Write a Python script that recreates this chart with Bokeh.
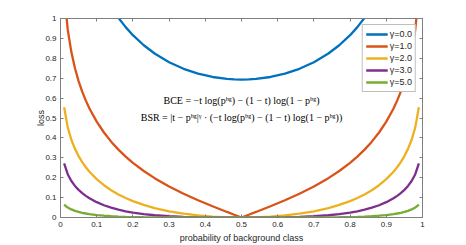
from bokeh.plotting import figure
from bokeh.models import LinearAxis, Range1d, FixedTicker, Legend, LegendItem, ColumnDataSource, CustomJSTickFormatter
from bokeh.core.properties import value
from bokeh.embed import file_html
from bokeh.resources import INLINE

# probability of background class
p_bg = [0.01, 0.02, 0.03, 0.04, 0.05, 0.06, 0.07, 0.08, 0.10, 0.12, 0.14, 0.16, 0.18, 0.20,
        0.23, 0.26, 0.30, 0.34, 0.38, 0.42, 0.46, 0.48, 0.50,
        0.52, 0.54, 0.58, 0.62, 0.66, 0.70, 0.74, 0.77, 0.80, 0.82, 0.84, 0.86, 0.88,
        0.90, 0.92, 0.93, 0.94, 0.95, 0.96, 0.97, 0.98, 0.99]

loss_g0 = [2.3076, 1.9661, 1.7685, 1.6299, 1.5235, 1.4376, 1.3659, 1.3045, 1.2040, 1.1240, 1.0585, 1.0035, 0.9566, 0.9163,
           0.8655, 0.8241, 0.7803, 0.7472, 0.7228, 0.7061, 0.6964, 0.6940, 0.6931,
           0.6940, 0.6964, 0.7061, 0.7228, 0.7472, 0.7803, 0.8241, 0.8655, 0.9163, 0.9566, 1.0035, 1.0585, 1.1240,
           1.2040, 1.3045, 1.3659, 1.4376, 1.5235, 1.6299, 1.7685, 1.9661, 2.3076]
loss_g1 = [1.1307, 0.9437, 0.8312, 0.7498, 0.6856, 0.6325, 0.5873, 0.5479, 0.4816, 0.4271, 0.3811, 0.3412, 0.3061, 0.2749,
           0.2337, 0.1978, 0.1561, 0.1196, 0.0867, 0.0565, 0.0279, 0.0139, 0.0,
           0.0139, 0.0279, 0.0565, 0.0867, 0.1196, 0.1561, 0.1978, 0.2337, 0.2749, 0.3061, 0.3412, 0.3811, 0.4271,
           0.4816, 0.5479, 0.5873, 0.6325, 0.6856, 0.7498, 0.8312, 0.9437, 1.1307]
loss_g2 = [0.5540, 0.4530, 0.3907, 0.3449, 0.3085, 0.2783, 0.2526, 0.2301, 0.1926, 0.1623, 0.1372, 0.1160, 0.0980, 0.0825,
           0.0631, 0.0475, 0.0312, 0.0191, 0.0104, 0.0045, 0.0011, 0.0003, 0.0,
           0.0003, 0.0011, 0.0045, 0.0104, 0.0191, 0.0312, 0.0475, 0.0631, 0.0825, 0.0980, 0.1160, 0.1372, 0.1623,
           0.1926, 0.2301, 0.2526, 0.2783, 0.3085, 0.3449, 0.3907, 0.4530, 0.5540]
loss_g3 = [0.2715, 0.2174, 0.1836, 0.1586, 0.1388, 0.1225, 0.1086, 0.0966, 0.0771, 0.0617, 0.0494, 0.0394, 0.0313, 0.0247,
           0.0170, 0.0114, 0.0062, 0.0031, 0.0012, 0.0004, 0.0000, 0.0, 0.0,
           0.0, 0.0000, 0.0004, 0.0012, 0.0031, 0.0062, 0.0114, 0.0170, 0.0247, 0.0313, 0.0394, 0.0494, 0.0617,
           0.0771, 0.0966, 0.1086, 0.1225, 0.1388, 0.1586, 0.1836, 0.2174, 0.2715]
loss_g5 = [0.0652, 0.0501, 0.0406, 0.0336, 0.0281, 0.0237, 0.0201, 0.0170, 0.0123, 0.0089, 0.0064, 0.0046, 0.0032, 0.0022,
           0.0012, 0.0007, 0.0002, 0.0001, 0.0, 0.0, 0.0, 0.0, 0.0,
           0.0, 0.0, 0.0, 0.0, 0.0001, 0.0002, 0.0007, 0.0012, 0.0022, 0.0032, 0.0046, 0.0064, 0.0089,
           0.0123, 0.0170, 0.0201, 0.0237, 0.0281, 0.0336, 0.0406, 0.0501, 0.0652]

series_names = ["γ=0.0", "γ=1.0", "γ=2.0", "γ=3.0", "γ=5.0"]
series_colors = ["#0072BD", "#D95319", "#EDB120", "#7E2F8E", "#77AC30"]

x_ticks = [0, 0.1, 0.2, 0.3, 0.4, 0.5, 0.6, 0.7, 0.8, 0.9, 1]
y_ticks = [0, 0.1, 0.2, 0.3, 0.4, 0.5, 0.6, 0.7, 0.8, 0.9, 1]
x_tick_labels = {0: "0", 0.1: "0.1", 0.2: "0.2", 0.3: "0.3", 0.4: "0.4", 0.5: "0.5",
                 0.6: "0.6", 0.7: "0.7", 0.8: "0.8", 0.9: "0.9", 1: "1"}
y_tick_labels = dict(x_tick_labels)

formula_x = [0.5, 0.5]
formula_y = [0.59, 0.505]
formula_text = ["BCE = −t log(pᵇᵍ) − (1 − t) log(1 − pᵇᵍ)",
                "BSR = |t − pᵇᵍ|ᵞ · (−t log(pᵇᵍ) − (1 − t) log(1 − pᵇᵍ))"]

AX = "#808080"
TXT = "#262626"
FONT = "Liberation Sans"

p = figure(width=466, height=245, output_backend="svg", toolbar_location=None,
           x_range=Range1d(0, 1), y_range=Range1d(0, 1),
           min_border_left=60, min_border_right=44, min_border_top=18, min_border_bottom=27)
p.background_fill_color = "white"
p.border_fill_color = "white"
p.grid.visible = False
p.outline_line_color = AX
p.outline_line_width = 1

def style_axis(ax):
    ax.axis_line_color = AX
    ax.major_tick_line_color = AX
    ax.major_tick_in = 3
    ax.major_tick_out = 0
    ax.minor_tick_line_color = None
    ax.major_label_text_font = FONT
    ax.major_label_text_font_size = "8px"
    ax.major_label_text_color = TXT
    ax.axis_label_text_font = FONT
    ax.axis_label_text_font_size = "9px"
    ax.axis_label_text_color = TXT
    ax.axis_label_text_font_style = "normal"
    ax.major_label_standoff = 4

p.xaxis.ticker = FixedTicker(ticks=x_ticks)
p.yaxis.ticker = FixedTicker(ticks=y_ticks)
p.xaxis.major_label_overrides = x_tick_labels
p.yaxis.major_label_overrides = y_tick_labels
p.xaxis.axis_label = "probability of background class"
p.yaxis.axis_label = "loss"
style_axis(p.xaxis[0])
style_axis(p.yaxis[0])
p.xaxis.axis_label_standoff = 3
p.yaxis.axis_label_standoff = -4

empty = CustomJSTickFormatter(code="return '';")
top = LinearAxis(ticker=FixedTicker(ticks=x_ticks), formatter=empty)
right = LinearAxis(ticker=FixedTicker(ticks=y_ticks), formatter=empty)
style_axis(top)
style_axis(right)
top.major_label_standoff = 0
right.major_label_standoff = 0
p.add_layout(top, "above")
p.add_layout(right, "right")

all_loss = [loss_g0, loss_g1, loss_g2, loss_g3, loss_g5]
items = []
for ys, name, col in zip(all_loss, series_names, series_colors):
    r = p.line(p_bg, ys, line_color=col, line_width=2.3)
    items.append(LegendItem(label=name, renderers=[r]))

src = ColumnDataSource(data=dict(x=formula_x, y=formula_y, t=formula_text))
p.text(x="x", y="y", text="t", source=src, text_align="center", text_baseline="middle",
       text_font=value("Liberation Serif"), text_font_size="10px", text_color="black")

legend = Legend(items=items, location="top_right")
legend.margin = 6
legend.padding = 3
legend.spacing = 0
legend.label_height = 11
legend.glyph_height = 12
legend.glyph_width = 22
legend.label_standoff = 2
legend.label_text_font = FONT
legend.label_text_font_size = "9px"
legend.label_text_color = TXT
legend.border_line_color = AX
legend.border_line_width = 1
legend.background_fill_alpha = 1
p.add_layout(legend, "center")

open("out.html", "w").write(file_html(p, INLINE))
